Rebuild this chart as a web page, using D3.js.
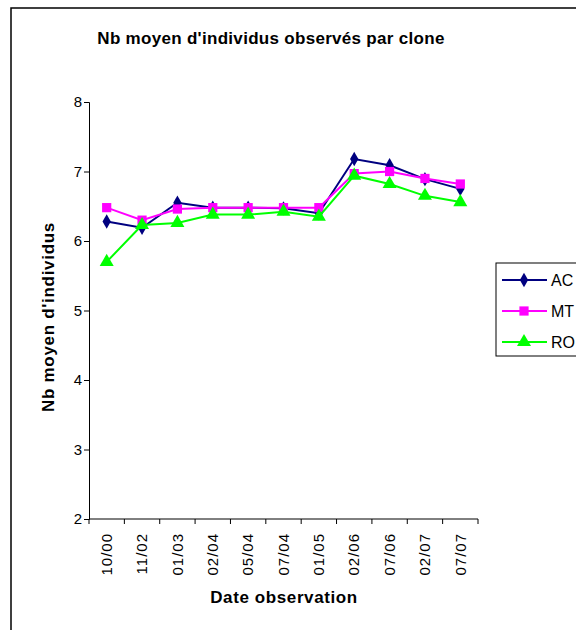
<!DOCTYPE html>
<html>
<head>
<meta charset="utf-8">
<script src="https://cdn.jsdelivr.net/npm/d3@7"></script>
<style>
  body { margin: 0; background: #fff; }
  text { font-family: "Liberation Sans", Arial, sans-serif; }
</style>
</head>
<body>
<svg width="576" height="630"></svg>
<script>
var dates = ['10/00', '11/02', '01/03', '02/04', '05/04', '07/04', '01/05', '02/06', '07/06', '02/07', '07/07'];
var seriesNames = ['AC', 'MT', 'RO'];
var acValues = [6.28, 6.19, 6.55, 6.48, 6.48, 6.47, 6.40, 7.18, 7.09, 6.89, 6.75];
var mtValues = [6.48, 6.30, 6.46, 6.48, 6.48, 6.48, 6.48, 6.97, 7.00, 6.90, 6.82];
var roValues = [5.70, 6.23, 6.26, 6.38, 6.38, 6.42, 6.35, 6.94, 6.82, 6.65, 6.56];
var yTicks = [2, 3, 4, 5, 6, 7, 8];

var colors = { AC: '#000080', MT: '#ff00ff', RO: '#00ff00' };
var shapes = { AC: d3.symbolDiamond, MT: d3.symbolSquare, RO: d3.symbolTriangle };
var sizes = { AC: 60, MT: 85, RO: 85 };

var series = [
  { name: 'AC', values: acValues },
  { name: 'MT', values: mtValues },
  { name: 'RO', values: roValues }
];

var svg = d3.select('svg');

// chart frame (cut off by the picture edge)
svg.append('rect')
  .attr('x', 11).attr('y', 8)
  .attr('width', 600).attr('height', 650)
  .attr('fill', 'none').attr('stroke', '#000').attr('stroke-width', 1.5);

var x = d3.scaleBand().domain(dates).range([89, 478]);
var y = d3.scaleLinear().domain([2, 8]).range([519, 102]);

svg.append('text')
  .attr('x', 271).attr('y', 44)
  .attr('text-anchor', 'middle')
  .style('font-size', '17px').style('font-weight', 'bold')
  .style('letter-spacing', '0.3px')
  .text("Nb moyen d'individus observés par clone");

// y axis
var yAxis = svg.append('g')
  .attr('transform', 'translate(89,0)')
  .call(d3.axisLeft(y).tickValues(yTicks).tickFormat(d3.format('d')).tickSize(5).tickPadding(2));
yAxis.select('.domain').attr('stroke', '#000');
yAxis.selectAll('text').style('font-size', '15px').style('font-family', '"Liberation Sans", Arial, sans-serif');

// x axis, ticks between categories
var xAxis = svg.append('g')
  .attr('transform', 'translate(0,519)')
  .call(d3.axisBottom(x).tickSize(0).tickPadding(0));
xAxis.select('.domain').attr('d', 'M89,0H478');
xAxis.selectAll('.tick text')
  .attr('transform', 'rotate(-90)')
  .attr('x', -14).attr('y', 0).attr('dy', '0.35em')
  .style('text-anchor', 'end')
  .style('letter-spacing', '1px')
  .style('font-size', '15px').style('font-family', '"Liberation Sans", Arial, sans-serif');
xAxis.selectAll('.sep')
  .data(dates.concat(['end']))
  .enter().append('line')
  .attr('class', 'sep')
  .attr('x1', function(d, i) { return i < dates.length ? x(d) : x.range()[1]; })
  .attr('x2', function(d, i) { return i < dates.length ? x(d) : x.range()[1]; })
  .attr('y1', 0).attr('y2', 5)
  .attr('stroke', '#000');

svg.append('text')
  .attr('transform', 'translate(48,317) rotate(-90)')
  .attr('text-anchor', 'middle')
  .attr('dy', '0.35em')
  .style('font-size', '17px').style('font-weight', 'bold')
  .style('letter-spacing', '0.7px')
  .text("Nb moyen d'individus");

svg.append('text')
  .attr('x', 284).attr('y', 603)
  .attr('text-anchor', 'middle')
  .style('font-size', '17px').style('font-weight', 'bold')
  .style('letter-spacing', '0.6px')
  .text('Date observation');

var line = d3.line()
  .x(function(d, i) { return x(dates[i]) + x.bandwidth() / 2; })
  .y(function(d) { return y(d); });

var g = svg.append('g').selectAll('g')
  .data(series)
  .enter().append('g');

g.append('path')
  .attr('d', function(d) { return line(d.values); })
  .attr('fill', 'none')
  .attr('stroke', function(d) { return colors[d.name]; })
  .attr('stroke-width', 2);

g.selectAll('path.mark')
  .data(function(d) { return d.values.map(function(v, i) { return { name: d.name, v: v, i: i }; }); })
  .enter().append('path')
  .attr('class', 'mark')
  .attr('transform', function(d) { return 'translate(' + (x(dates[d.i]) + x.bandwidth() / 2) + ',' + y(d.v) + ')'; })
  .attr('d', function(d) { return d3.symbol().type(shapes[d.name]).size(sizes[d.name])(); })
  .attr('fill', function(d) { return colors[d.name]; });

// legend
var legend = svg.append('g');
legend.append('rect')
  .attr('x', 496).attr('y', 263)
  .attr('width', 100).attr('height', 93)
  .attr('fill', '#fff').attr('stroke', '#000').attr('stroke-width', 1);

var item = legend.selectAll('g.item')
  .data(seriesNames)
  .enter().append('g')
  .attr('class', 'item')
  .attr('transform', function(d, i) { return 'translate(0,' + (280 + i * 31) + ')'; });
item.append('line')
  .attr('x1', 502).attr('x2', 547)
  .attr('stroke', function(d) { return colors[d]; })
  .attr('stroke-width', 2);
item.append('path')
  .attr('transform', 'translate(524,0)')
  .attr('d', function(d) { return d3.symbol().type(shapes[d]).size(sizes[d])(); })
  .attr('fill', function(d) { return colors[d]; });
item.append('text')
  .attr('x', 551).attr('dy', '0.35em')
  .style('font-size', '16px')
  .text(function(d) { return d; });
</script>
</body>
</html>
